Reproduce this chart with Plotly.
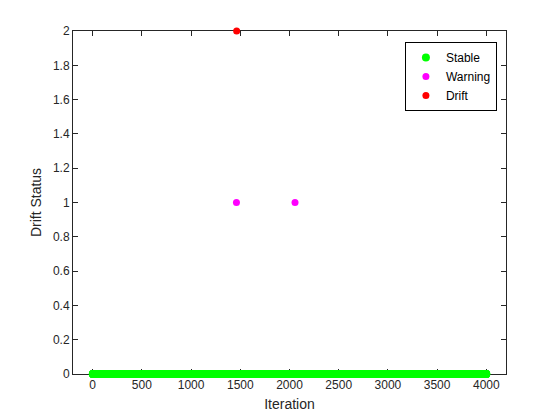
import plotly.graph_objects as go

# Data: iterations and drift status events
n_iterations = 4000
warning_iters = [1461, 2056]
drift_iters = [1463]
status_levels = {"Stable": 0, "Warning": 1, "Drift": 2}

iterations = list(range(1, n_iterations + 1))
event_iters = set(warning_iters) | set(drift_iters)
stable_iters = [i for i in iterations if i not in event_iters]

x_ticks = [0, 500, 1000, 1500, 2000, 2500, 3000, 3500, 4000]
y_ticks = [0, 0.2, 0.4, 0.6, 0.8, 1, 1.2, 1.4, 1.6, 1.8, 2]
y_tick_text = ["0", "0.2", "0.4", "0.6", "0.8", "1", "1.2", "1.4", "1.6", "1.8", "2"]

font_family = "Liberation Sans, Arial, sans-serif"
axis_color = "#262626"

fig = go.Figure()
fig.add_trace(go.Scatter(
    x=stable_iters, y=[status_levels["Stable"]] * len(stable_iters),
    mode="markers", name="Stable",
    marker=dict(color="#00FF00", size=8, line=dict(width=0)),
    cliponaxis=False,
))
fig.add_trace(go.Scatter(
    x=warning_iters, y=[status_levels["Warning"]] * len(warning_iters),
    mode="markers", name="Warning",
    marker=dict(color="#FF00FF", size=7, line=dict(width=0)),
    cliponaxis=False,
))
fig.add_trace(go.Scatter(
    x=drift_iters, y=[status_levels["Drift"]] * len(drift_iters),
    mode="markers", name="Drift",
    marker=dict(color="#FF0000", size=7, line=dict(width=0)),
    cliponaxis=False,
))

axis_common = dict(
    showgrid=False, zeroline=False, showline=True, linecolor=axis_color,
    linewidth=1, mirror="ticks", ticks="inside", ticklen=5, tickcolor=axis_color,
    tickfont=dict(family=font_family, size=12, color=axis_color),
    layer="below traces",
)

fig.update_layout(
    width=560, height=420,
    paper_bgcolor="white", plot_bgcolor="white",
    margin=dict(l=65, r=62, t=23, b=54),
    showlegend=True,
    legend=dict(
        x=0.979, y=0.968, xanchor="right", yanchor="top",
        bgcolor="white", bordercolor="black", borderwidth=1,
        font=dict(family=font_family, size=12, color="black"),
        itemsizing="trace", tracegroupgap=0, itemwidth=30,
    ),
    xaxis=dict(
        range=[-200, 4200], tickvals=x_ticks,
        title=dict(text="Iteration", font=dict(family=font_family, size=14, color=axis_color), standoff=7),
        **axis_common,
    ),
    yaxis=dict(
        range=[0, 2], tickvals=y_ticks, ticktext=y_tick_text,
        title=dict(text="Drift Status", font=dict(family=font_family, size=14, color=axis_color), standoff=8),
        **axis_common,
    ),
)

fig.write_html("out.html")
